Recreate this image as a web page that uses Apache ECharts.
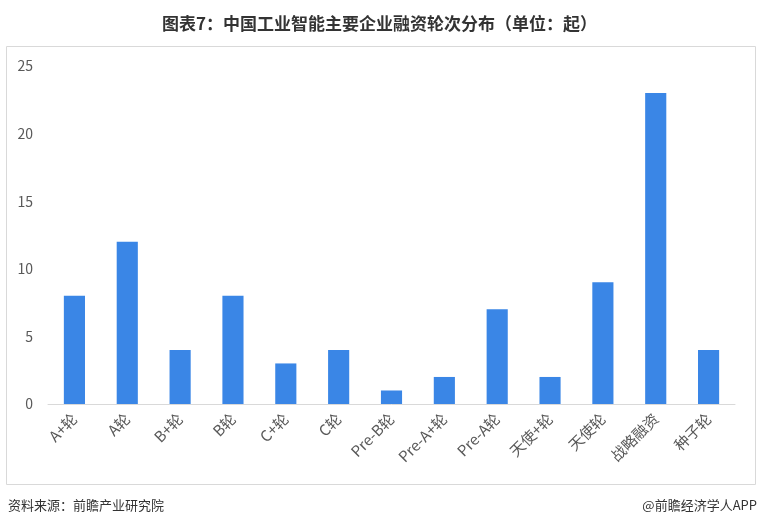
<!DOCTYPE html>
<html lang="zh">

<head>
  <meta charset="UTF-8">
  <title>图表7</title>
  <style>
    html, body { margin: 0; padding: 0; background: #fff; }
  </style>
</head>

<body>
  <div id="main" style="width: 759px; height: 527px"></div>

  <script src="https://cdn.jsdelivr.net/npm/echarts@6/dist/echarts.min.js"></script>

  <script>
    const titleText = "图表7：中国工业智能主要企业融资轮次分布（单位：起）"
    const categories = ["A+轮", "A轮", "B+轮", "B轮", "C+轮", "C轮", "Pre-B轮", "Pre-A+轮", "Pre-A轮", "天使+轮", "天使轮", "战略融资", "种子轮"]
    const counts = [8, 12, 4, 8, 3, 4, 1, 2, 7, 2, 9, 23, 4]
    const sourceText = "资料来源：前瞻产业研究院"
    const brandText = "@前瞻经济学人APP"

    const font = '"Microsoft YaHei", "Noto Sans CJK SC", sans-serif'

    const myChart = echarts.init(document.getElementById('main'))

    const option = {
      animation: false,
      textStyle: { fontFamily: font },
      title: {
        text: titleText,
        left: 'center',
        top: 10,
        textStyle: { fontSize: 17, fontWeight: 'bold', color: '#333', fontFamily: font }
      },
      graphic: [
        {
          type: 'rect',
          shape: { x: 6.5, y: 46.5, width: 749, height: 438 },
          style: { fill: 'none', stroke: '#d9d9d9', lineWidth: 1 },
          z: -1
        },
        {
          type: 'text', left: 8, top: 499,
          style: { text: sourceText, fontSize: 13, fill: '#333', fontFamily: font }
        },
        {
          type: 'text', right: 2, top: 499,
          style: { text: brandText, fontSize: 13, fill: '#333', fontFamily: font }
        }
      ],
      grid: { left: 48, right: 24, top: 66, bottom: 123 },
      xAxis: {
        type: 'category',
        data: categories,
        axisLine: { lineStyle: { color: '#d9d9d9' } },
        axisTick: { show: false },
        axisLabel: { rotate: 45, color: '#595959', fontSize: 15, interval: 0, margin: 12 }
      },
      yAxis: {
        type: 'value',
        min: 0,
        max: 25,
        interval: 5,
        splitLine: { show: false },
        axisLine: { show: false },
        axisTick: { show: false },
        axisLabel: { color: '#595959', fontSize: 14, margin: 15 }
      },
      series: [
        {
          type: 'bar',
          data: counts,
          barWidth: '40%',
          itemStyle: { color: '#3a86e6' }
        }
      ]
    }

    myChart.setOption(option)
  </script>
</body>

</html>
